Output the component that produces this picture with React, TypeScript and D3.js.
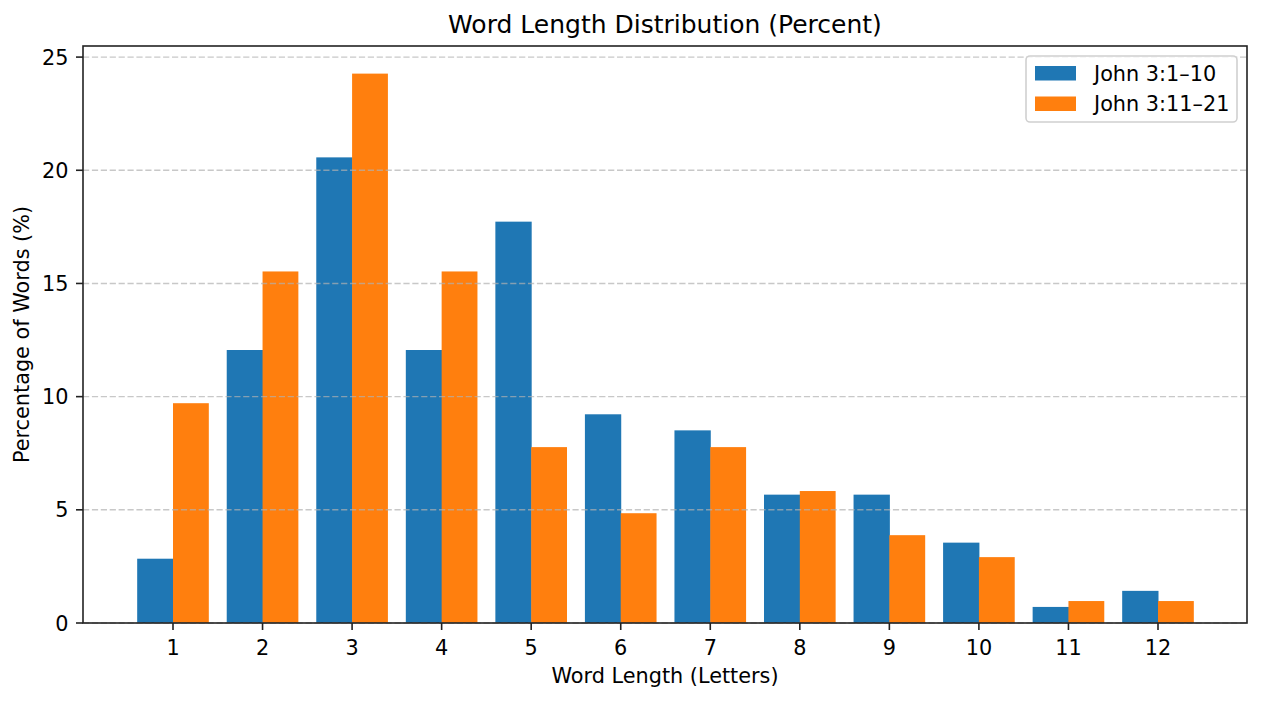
import React from "react";
import * as d3 from "d3";

const categories = [1, 2, 3, 4, 5, 6, 7, 8, 9, 10, 11, 12];
const seriesA = [2.84, 12.06, 20.57, 12.06, 17.73, 9.22, 8.51, 5.67, 5.67, 3.55, 0.71, 1.42];
const seriesB = [9.71, 15.53, 24.27, 15.53, 7.77, 4.85, 7.77, 5.83, 3.88, 2.91, 0.97, 0.97];
const seriesNames = ["John 3:1–10", "John 3:11–21"];
const colors = ["#1f77b4", "#ff7f0e"];
const yTicks = [0, 5, 10, 15, 20, 25];

const W = 1261, H = 701;
const L = 83, R = 1247, T = 46, B = 623;
const FONT = "'DejaVu Sans', sans-serif";
const FS = 20.8;

export default function App() {
  const x = d3.scaleLinear().domain([1, 12]).range([173, 1158]);
  const y = d3.scaleLinear().domain([0, 25.49]).range([B, T]);
  const bw = 0.4;
  const series = [seriesA, seriesB];
  return (
    <svg width={W} height={H} style={{ position: "absolute", left: 0, top: 0, background: "#fff" }} fontFamily={FONT}>
      <rect x={0} y={0} width={W} height={H} fill="#fff" />
      {series.map((s, si) =>
        s.map((v, i) => {
          const cx = categories[i] + (si === 0 ? -bw : 0);
          return (
            <rect key={`${si}-${i}`} x={x(cx)} y={y(v)} width={x(cx + bw) - x(cx) + (si === 0 ? 0.5 : 0)} height={y(0) - y(v)} fill={colors[si]} />
          );
        })
      )}
      {yTicks.map((t) => (
        <line key={`g${t}`} x1={L} x2={R} y1={y(t)} y2={y(t)} stroke="#b0b0b0" strokeOpacity={0.7} strokeWidth={1.4} strokeDasharray="6.2,2.7" />
      ))}
      <rect x={L} y={T} width={R - L} height={B - T} fill="none" stroke="#222" strokeWidth={1.6} />
      {yTicks.map((t) => (
        <g key={`yt${t}`}>
          <line x1={L - 7} x2={L} y1={y(t)} y2={y(t)} stroke="#222" strokeWidth={1.6} />
          <text x={L - 14.5} y={y(t) + 7.5} textAnchor="end" fontSize={FS} fill="#000">{t}</text>
        </g>
      ))}
      {categories.map((c) => (
        <g key={`xt${c}`}>
          <line x1={x(c)} x2={x(c)} y1={B} y2={B + 7} stroke="#222" strokeWidth={1.6} />
          <text x={x(c)} y={B + 32} textAnchor="middle" fontSize={FS} fill="#000">{c}</text>
        </g>
      ))}
      <text x={(L + R) / 2} y={33} textAnchor="middle" fontSize={25} fill="#000">Word Length Distribution (Percent)</text>
      <text x={(L + R) / 2} y={683} textAnchor="middle" fontSize={FS} fill="#000">Word Length (Letters)</text>
      <text transform={`translate(29,${(T + B) / 2}) rotate(-90)`} textAnchor="middle" fontSize={FS} fill="#000">Percentage of Words (%)</text>
      <g>
        <rect x={1026} y={56} width={211} height={66} rx={4} fill="#fff" fillOpacity={0.8} stroke="#d0d0d0" strokeWidth={1.6} />
        {seriesNames.map((n, i) => (
          <g key={n}>
            <rect x={1035} y={66 + i * 30.5} width={41} height={14.5} fill={colors[i]} />
            <text x={1094} y={80.5 + i * 30.5} fontSize={FS} fill="#000">{n}</text>
          </g>
        ))}
      </g>
    </svg>
  );
}
